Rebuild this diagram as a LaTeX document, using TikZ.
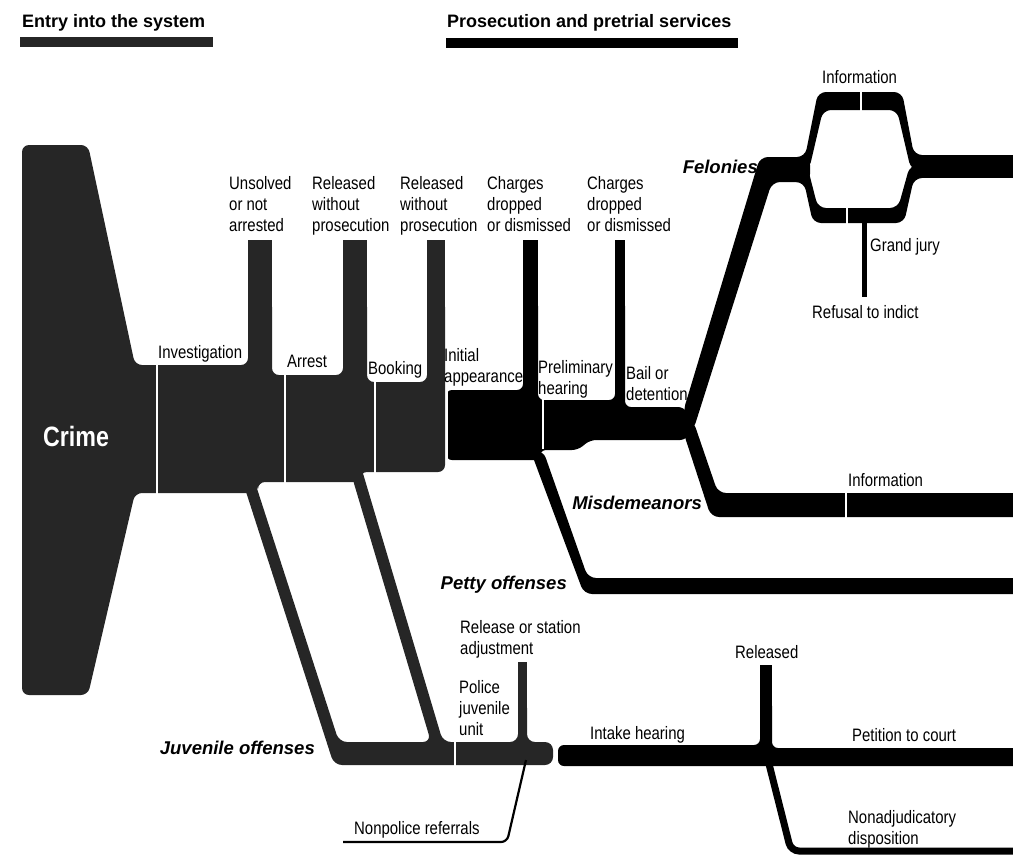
\documentclass[tikz,border=0pt]{standalone}
\usepackage{fontspec}
\setmainfont{Liberation Sans}
\newfontfamily\narrowsans{Liberation Sans}[FakeStretch=0.83]
\definecolor{entryink}{RGB}{38,38,38}
\definecolor{prosink}{RGB}{0,0,0}

\begin{document}
\begin{tikzpicture}[
  x=1pt, y=-1pt,
  entry/.style={fill=entryink},
  pros/.style={fill=prosink},
  prosline/.style={draw=prosink},
  cut/.style={draw=white, line width=2.5pt},
  lbl/.style={font=\narrowsans\fontsize{18}{21}\selectfont, inner sep=0pt, anchor=north west, align=left},
  cat/.style={font=\bfseries\itshape\fontsize{18.5}{21}\selectfont, inner sep=0pt, anchor=north east},
  head/.style={font=\bfseries\fontsize{18}{21}\selectfont, inner sep=0pt, anchor=north west}
]
  \useasboundingbox (0,0) rectangle (1013,855);

  \node[head] (entryhead) at (22,14) {Entry into the system};
  \node[head] (proshead) at (447,14) {Prosecution and pretrial services};
  \fill[entry] (20,37) rectangle (213,47);
  \fill[pros] (446,38) rectangle (738,48);

  % entry into the system
  \fill[entry, rounded corners=7] (22,145) -- (88,145) -- (135,365) -- (248,365) -- (248,300) -- (272,300)
    -- (272,375) -- (343,375) -- (343,300) -- (367,300) -- (367,382) -- (427,382) -- (427,300) -- (445,300)
    -- (445,472) -- (360,472) -- (360,482) -- (258,482) -- (258,493) -- (135,493) -- (88,695) -- (22,695) -- cycle;
  \fill[entry] (248,240) rectangle (272,320);
  \fill[entry] (343,240) rectangle (367,320);
  \fill[entry] (427,240) rectangle (445,320);

  \fill[entry, rounded corners=8] (239,470) -- (334,765) -- (553,765) -- (553,742) -- (527,742) -- (527,700)
    -- (518,700) -- (518,742) -- (443,742) -- (359,460) -- (347,460) -- (431,742) -- (339,742) -- (251,470) -- cycle;
  \fill[entry] (518,662) rectangle (527,710);
  \draw[black, line width=2.2pt, rounded corners=6] (526,760) -- (507,842) -- (343,842);

  % prosecution and pretrial services
  \fill[pros, rounded corners=6] (446,390) -- (523,390) -- (523,300) -- (538,300) -- (538,400) -- (615,400)
    -- (615,300) -- (625,300) -- (625,407) -- (684,407) -- (694,424) -- (686,440) -- (590,440) -- (578,450)
    -- (540,450) -- (540,460) -- (446,460) -- cycle;
  \fill[pros] (523,240) rectangle (538,320);
  \fill[pros] (615,240) rectangle (625,320);

  \fill[pros, rounded corners=8] (531,452) -- (543,450) -- (588,578) -- (1025,578) -- (1025,594) -- (584,594) -- cycle;
  \fill[pros, rounded corners=8] (682,428) -- (693,420) -- (718,493) -- (1025,493) -- (1025,517) -- (711,517) -- cycle;
  \fill[pros, rounded corners=8] (683,412) -- (760,157) -- (810,157) -- (810,182) -- (772,182) -- (693,431) -- cycle;

  \fill[pros, rounded corners=8] (790,157) -- (805,157) -- (818,92) -- (902,92) -- (914,155) -- (930,155)
    -- (930,170) -- (911,170) -- (897,110) -- (823,110) -- (809,170) -- (790,170) -- cycle;
  \fill[pros, rounded corners=8] (790,165) -- (807,165) -- (818,208) -- (898,208) -- (910,165) -- (930,165)
    -- (930,178) -- (914,178) -- (904,223) -- (813,223) -- (804,182) -- (790,182) -- cycle;
  \fill[pros] (915,155) rectangle (1025,178);
  \draw[prosline, line width=5pt] (864.5,215) -- (864.5,297);

  \fill[pros, rounded corners=6] (558,745) -- (760,745) -- (760,700) -- (772,700) -- (772,748) -- (1025,748)
    -- (1025,766) -- (558,766) -- cycle;
  \fill[pros] (760,665) rectangle (772,710);
  \draw[prosline, line width=7pt, rounded corners=8] (768,760) -- (791,851) -- (1025,851);

  \draw[cut] (157,360) -- (157,498);
  \draw[cut] (285,370) -- (285,490);
  \draw[cut] (375,378) -- (375,478);
  \draw[cut] (447,385) -- (447,466);
  \draw[cut] (543,396) -- (543,449);
  \draw[cut] (455,738) -- (455,770);
  \draw[cut] (556,738) -- (556,770);
  \draw[cut] (846,489) -- (846,521);
  \draw[cut] (861,88) -- (861,114);
  \draw[cut] (847,204) -- (847,227);

  \node[font=\narrowsans\bfseries\fontsize{28}{30}\selectfont, text=white] (crime) at (76,436) {Crime};

  \node[lbl] (unsolved) at (229,176) {Unsolved\\or not\\arrested};
  \node[lbl] (relpolice) at (312,176) {Released\\without\\prosecution};
  \node[lbl] (relbooking) at (400,176) {Released\\without\\prosecution};
  \node[lbl] (dropinitial) at (487,176) {Charges\\dropped\\or dismissed};
  \node[lbl] (dropprelim) at (587,176) {Charges\\dropped\\or dismissed};

  \node[lbl] (invest) at (158,345) {Investigation};
  \node[lbl] (arrest) at (287,355) {Arrest};
  \node[lbl] (booking) at (368,361) {Booking};
  \node[lbl] (initial) at (444,348) {Initial\\appearance};
  \node[lbl] (prelim) at (538,360) {Preliminary\\hearing};
  \node[lbl] (bail) at (626,366) {Bail or\\detention};

  \node[cat] (felonies) at (758,160) {Felonies};
  \node[lbl] (infofel) at (822,70) {Information};
  \node[lbl] (grandjury) at (870,238) {Grand jury};
  \node[lbl] (refusal) at (812,305) {Refusal to indict};
  \node[cat] (misdem) at (702,496) {Misdemeanors};
  \node[lbl] (infomis) at (848,473) {Information};
  \node[cat] (petty) at (567,576) {Petty offenses};

  \node[lbl] (station) at (460,620) {Release or station\\adjustment};
  \node[lbl] (policeunit) at (459,680) {Police\\juvenile\\unit};
  \node[cat] (juvenile) at (315,741) {Juvenile offenses};
  \node[lbl] (nonpolice) at (354,821) {Nonpolice referrals};
  \node[lbl] (intake) at (590,726) {Intake hearing};
  \node[lbl] (released) at (735,645) {Released};
  \node[lbl] (petition) at (852,728) {Petition to court};
  \node[lbl] (nonadj) at (848,810) {Nonadjudicatory\\disposition};
\end{tikzpicture}
\end{document}
